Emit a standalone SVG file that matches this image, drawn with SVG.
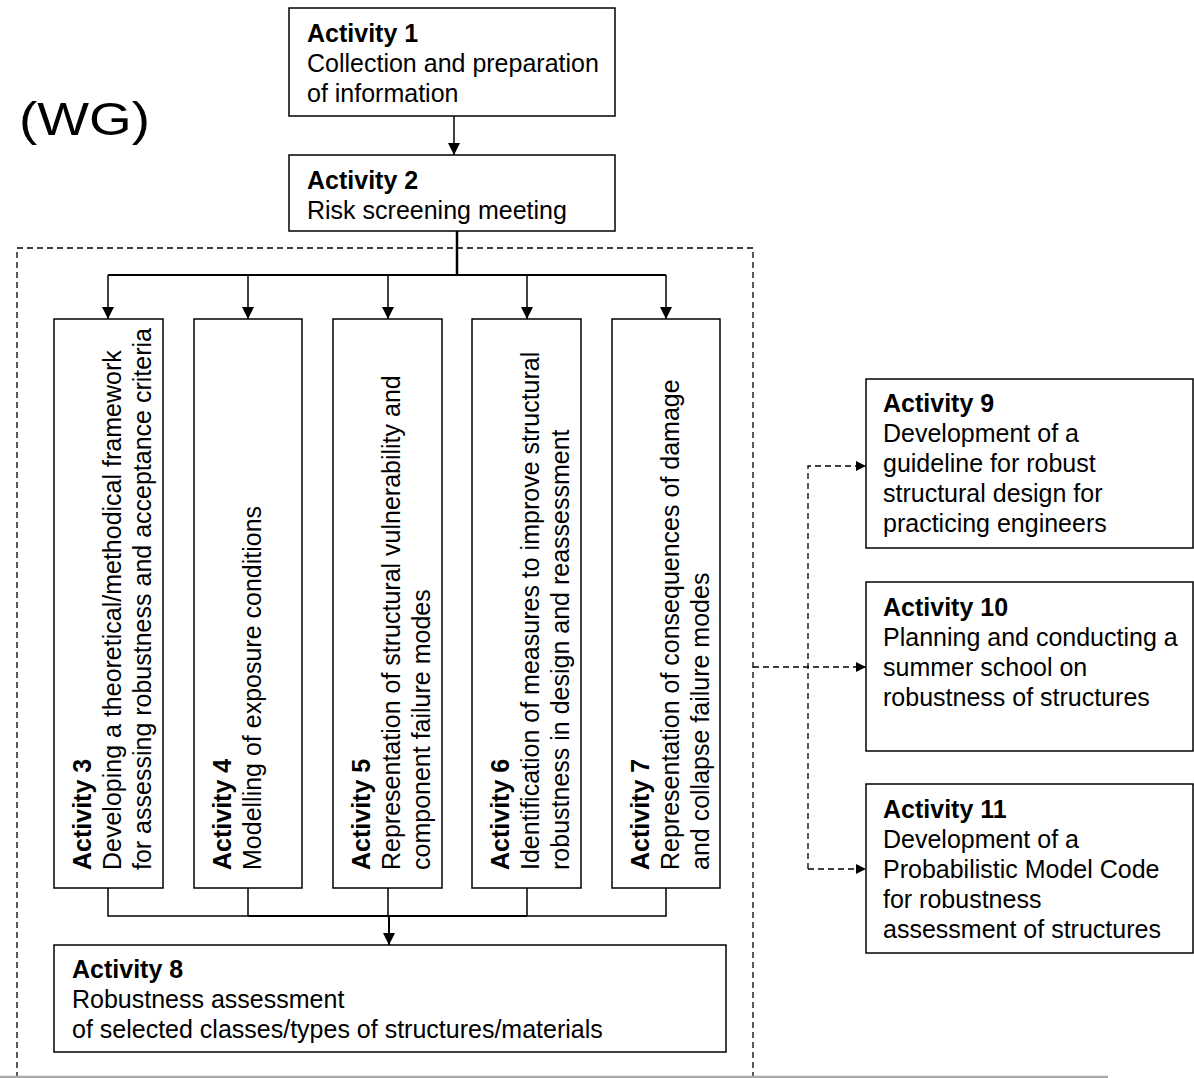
<svg xmlns="http://www.w3.org/2000/svg" width="1194" height="1078" viewBox="0 0 1194 1078">
<style>
text{font-family:"Liberation Sans",Arial,sans-serif;font-size:25px;fill:#000}
.b{font-weight:bold}
.box{fill:#fff;stroke:#000;stroke-width:1.5}
.ln{fill:none;stroke:#000;stroke-width:1.5}
.thick{fill:none;stroke:#000;stroke-width:2.5}
.dash{fill:none;stroke:#000;stroke-width:1.3;stroke-dasharray:6 4}
</style>
<defs>
<marker id="ah" viewBox="0 0 10 10" refX="10" refY="5" markerWidth="10" markerHeight="10" markerUnits="userSpaceOnUse" orient="auto">
<path d="M0,0 L10,5 L0,10 z" fill="#000"/>
</marker>
<marker id="ah2" viewBox="0 0 10 10" refX="10" refY="5" markerWidth="12" markerHeight="12" markerUnits="userSpaceOnUse" orient="auto">
<path d="M0,0 L10,5 L0,10 z" fill="#000"/>
</marker>
</defs>
<rect width="1194" height="1078" fill="#fff"/>
<text x="19" y="135" style="font-size:46px" textLength="131" lengthAdjust="spacingAndGlyphs">(WG)</text>
<g id="wg-frame">
<path class="dash" d="M17,1078 V248 H753 V1078"/>
</g>
<line x1="0" y1="1077" x2="1108" y2="1077" stroke="#aaa" stroke-width="2.5"/>
<g id="connectors">
<line class="ln" x1="454" y1="116" x2="454" y2="155" marker-end="url(#ah2)"/>
<path class="thick" d="M457,231 V275"/>
<path class="thick" d="M108,275 H666" style="stroke-width:2"/>
<line class="ln" x1="108" y1="275" x2="108" y2="319" marker-end="url(#ah2)"/>
<line class="ln" x1="248" y1="275" x2="248" y2="319" marker-end="url(#ah2)"/>
<line class="ln" x1="388" y1="275" x2="388" y2="319" marker-end="url(#ah2)"/>
<line class="ln" x1="527" y1="275" x2="527" y2="319" marker-end="url(#ah2)"/>
<line class="ln" x1="666" y1="275" x2="666" y2="319" marker-end="url(#ah2)"/>
<path class="ln" d="M108,888 V916 H666 V888 M248,888 V916 M388,888 V916 M527,888 V916"/>
<path class="thick" d="M248,916 H527" style="stroke-width:2"/>
<line class="thick" x1="389" y1="916" x2="389" y2="945" style="stroke-width:2" marker-end="url(#ah2)"/>
<path class="dash" d="M753,667 H866" marker-end="url(#ah)"/>
<path class="dash" d="M808,869 V466 H866" marker-end="url(#ah)"/>
<path class="dash" d="M808,869 H866" marker-end="url(#ah)"/>
</g>
<g id="activity1">
<rect class="box" x="289" y="8" width="326" height="108"/>
<text class="b" x="307" y="42">Activity 1</text>
<text x="307" y="72">Collection and preparation</text>
<text x="307" y="102">of information</text>
</g>
<g id="activity2">
<rect class="box" x="289" y="155" width="326" height="76"/>
<text class="b" x="307" y="189">Activity 2</text>
<text x="307" y="219">Risk screening meeting</text>
</g>
<g id="activity3">
<rect class="box" x="54" y="319" width="109" height="569"/>
<text class="b" transform="translate(91,870) rotate(-90)">Activity 3</text>
<text transform="translate(121,870) rotate(-90)">Developing a theoretical/methodical framework</text>
<text transform="translate(151,870) rotate(-90)">for assessing robustness and acceptance criteria</text>
</g>
<g id="activity4">
<rect class="box" x="194" y="319" width="108" height="569"/>
<text class="b" transform="translate(231,870) rotate(-90)">Activity 4</text>
<text transform="translate(261,870) rotate(-90)">Modelling of exposure conditions</text>
</g>
<g id="activity5">
<rect class="box" x="333" y="319" width="109" height="569"/>
<text class="b" transform="translate(370,870) rotate(-90)">Activity 5</text>
<text transform="translate(400,870) rotate(-90)">Representation of structural vulnerability and</text>
<text transform="translate(430,870) rotate(-90)">component failure modes</text>
</g>
<g id="activity6">
<rect class="box" x="472" y="319" width="109" height="569"/>
<text class="b" transform="translate(509,870) rotate(-90)">Activity 6</text>
<text transform="translate(539,870) rotate(-90)">Identification of measures to improve structural</text>
<text transform="translate(569,870) rotate(-90)">robustness in design and reassessment</text>
</g>
<g id="activity7">
<rect class="box" x="612" y="319" width="108" height="569"/>
<text class="b" transform="translate(649,870) rotate(-90)">Activity 7</text>
<text transform="translate(679,870) rotate(-90)">Representation of consequences of damage</text>
<text transform="translate(709,870) rotate(-90)">and collapse failure modes</text>
</g>
<g id="activity8">
<rect class="box" x="54" y="945" width="672" height="107"/>
<text class="b" x="72" y="978">Activity 8</text>
<text x="72" y="1008">Robustness assessment</text>
<text x="72" y="1038">of selected classes/types of structures/materials</text>
</g>
<g id="activity9">
<rect class="box" x="866" y="379" width="327" height="169"/>
<text class="b" x="883" y="412">Activity 9</text>
<text x="883" y="442">Development of a</text>
<text x="883" y="472">guideline for robust</text>
<text x="883" y="502">structural design for</text>
<text x="883" y="532">practicing engineers</text>
</g>
<g id="activity10">
<rect class="box" x="866" y="582" width="327" height="169"/>
<text class="b" x="883" y="616">Activity 10</text>
<text x="883" y="646">Planning and conducting a</text>
<text x="883" y="676">summer school on</text>
<text x="883" y="706">robustness of structures</text>
</g>
<g id="activity11">
<rect class="box" x="866" y="784" width="327" height="169"/>
<text class="b" x="883" y="818">Activity 11</text>
<text x="883" y="848">Development of a</text>
<text x="883" y="878">Probabilistic Model Code</text>
<text x="883" y="908">for robustness</text>
<text x="883" y="938">assessment of structures</text>
</g>
</svg>
